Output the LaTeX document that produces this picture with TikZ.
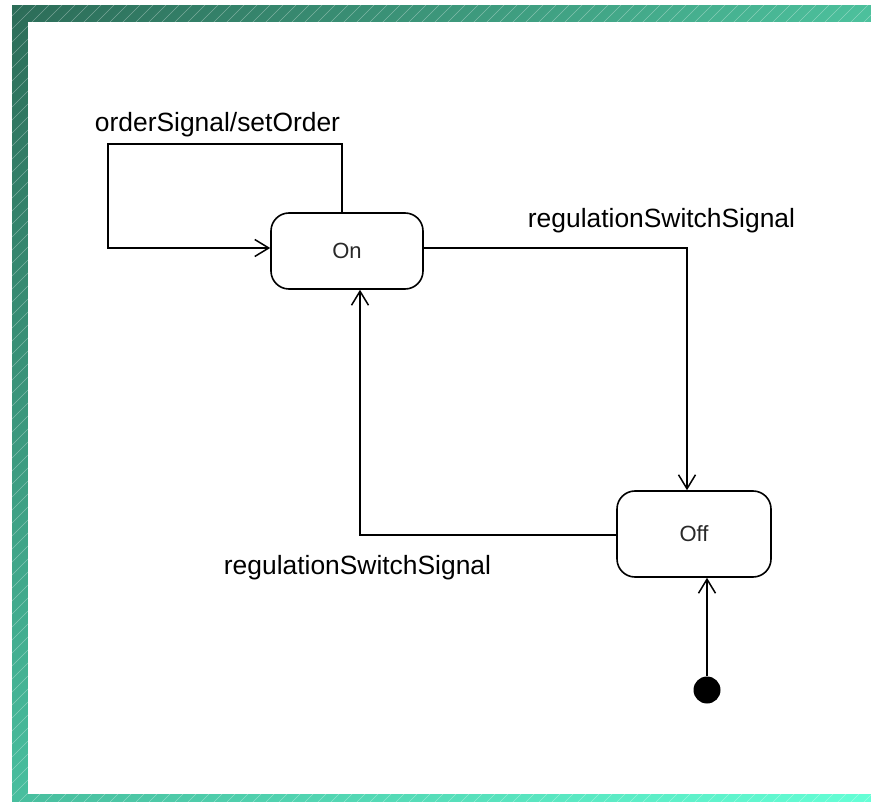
\documentclass[tikz,border=0pt]{standalone}
\usepackage{fontspec}
\setmainfont{Liberation Sans}
\usetikzlibrary{arrows.meta,shadings}

\definecolor{frameTL}{RGB}{44,108,88}
\definecolor{frameTR}{RGB}{76,192,156}
\definecolor{frameBL}{RGB}{72,190,158}
\definecolor{frameBR}{RGB}{100,255,214}
\definecolor{stateText}{RGB}{40,40,40}

\tikzset{
  state/.style={draw=black, line width=1.6pt, rounded corners=18pt, fill=white,
    font=\fontsize{22}{25}\selectfont, text=stateText, inner sep=0pt},
  trans/.style={draw=black, line width=1.5pt,
    -{Straight Barb[length=14pt,width=17pt]}},
  lbl/.style={anchor=base, inner sep=0pt, font=\fontsize{26.4}{30}\selectfont},
  initdot/.style={circle, fill=black, minimum size=27pt, inner sep=0pt}
}

\begin{document}
\begin{tikzpicture}[x=1pt, y=-1pt]
  \useasboundingbox (0,0) rectangle (871,802);
  \fill[white] (0,0) rectangle (871,802);

  % shaded frame with fine diagonal hatching
  \shade[upper left=frameTL, upper right=frameTR,
         lower left=frameBL, lower right=frameBR] (12,6) rectangle (871,802);
  \begin{scope}
    \clip (12,6) rectangle (871,802);
    \foreach \i in {-800,-787,...,871}
      \draw[white, opacity=0.35, line width=0.6pt] (\i,802) -- (\i+802,0);
  \end{scope}
  \fill[white] (28,22) rectangle (871,794);

  % states
  \node[state, minimum width=152pt, minimum height=76pt] (On) at (347,251) {On};
  \node[state, minimum width=154pt, minimum height=86pt] (Off) at (694,534) {Off};
  \node[initdot] (init) at (707,690) {};

  % transitions
  \coordinate (loopTL) at (108,144);
  \draw[trans] ([xshift=-5pt]On.north) |- (loopTL) |- ([yshift=3pt]On.west);
  \draw[trans] ([yshift=3pt]On.east) -| ([xshift=-7pt]Off.north);
  \draw[trans] ([yshift=-1pt]Off.west) -| ([xshift=13pt]On.south);
  \draw[trans] (init) -- (init |- Off.south);

  % transition labels
  \node[lbl] (lblLoop) at (217.5,132) {orderSignal/setOrder};
  \node[lbl] (lblOnOff) at (661.5,228) {regulationSwitchSignal};
  \node[lbl] (lblOffOn) at (357.5,574) {regulationSwitchSignal};
\end{tikzpicture}
\end{document}
